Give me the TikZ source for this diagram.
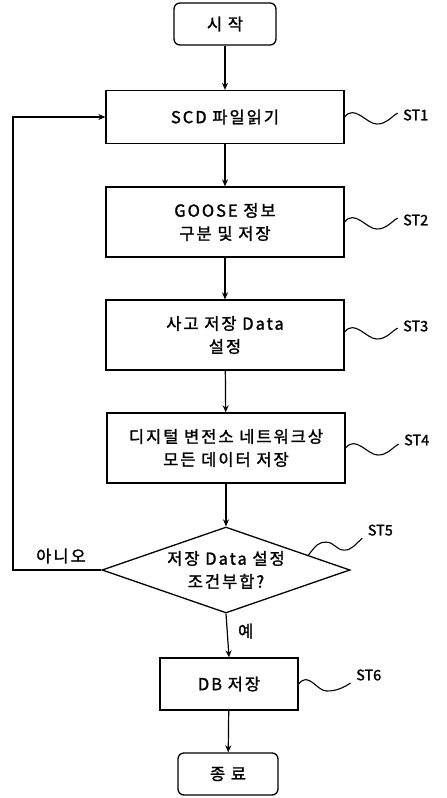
\documentclass[tikz,border=0pt]{standalone}
\usepackage{fontspec}
\setmainfont{Noto Sans CJK KR}[FakeBold=1.5]
\newfontfamily\widefont{Noto Sans CJK KR}[FakeBold=1.5,LetterSpace=12]
\usetikzlibrary{shapes.geometric,arrows.meta,calc}
\begin{document}
\begin{tikzpicture}[x=1pt,y=-1pt,
  every node/.style={font=\widefont\fontsize{16.5}{23}\selectfont},
  term/.style={draw,line width=1.3pt,rounded corners=6pt,minimum width=102pt,minimum height=42pt,inner sep=0pt},
  stepbox/.style={draw,line width=1.3pt,minimum width=238pt,minimum height=70pt,inner sep=0pt,align=center},
  decide/.style={draw,line width=1.3pt,diamond,minimum width=248pt,minimum height=86pt,inner sep=0pt},
  flow/.style={line width=1.2pt,-{Stealth[length=7pt,width=6pt]}},
  lead/.style={line width=1.1pt},
  lbl/.style={font=\rmfamily\fontsize{14.5}{16}\selectfont,anchor=west}]
\useasboundingbox (0,0) rectangle (447,798);
\node[term] (start) at (225,24) {시 작};
\node[stepbox,minimum height=53pt] (st1) at (225,117) {SCD 파일읽기};
\node[stepbox] (st2) at (225,222) {GOOSE 정보\\구분 및 저장};
\node[stepbox] (st3) at (225,335) {사고 저장 Data\\설정};
\node[stepbox] (st4) at (226,448) {디지털 변전소 네트워크상\\모든 데이터 저장};
\node[decide] (dia) at (226,570) {};
\node[align=center] (diatext) at (dia.center) {저장 Data 설정\\조건부합?};
\node[stepbox,minimum width=138pt,minimum height=52pt] (st6) at (229,684) {DB 저장};
\node[term,minimum width=100pt] (end) at (228,774) {종 료};

\draw[flow] (start) -- (st1);
\draw[flow] (st1) -- (st2);
\draw[flow] (st2) -- (st3);
\draw[flow] (st3) -- (st4);
\draw[flow] (st4.south) -- (dia.north);
\draw[flow] (dia.south) -- node[right=7pt,pos=0.4] (yes) {예} (st6.north);
\draw[flow] (st6) -- (end);
\coordinate (loopx) at (13,0);
\draw[flow] (dia.west) -- (loopx |- dia.west) -- (loopx |- st1.west) -- (st1.west);
\node (no) at (61,556) {아니오};

% leaders
\draw[lead] (st1.east) .. controls +(10,-13) and +(-10,0) .. ++(32,7) .. controls +(10,0) and +(-8,5) .. ++(21,-11) coordinate (e1);
\node[lbl] (l1) at ($(e1)+(2,2)$) {ST1};
\draw[lead] (st2.east) .. controls +(10,-13) and +(-10,0) .. ++(32,7) .. controls +(10,0) and +(-8,5) .. ++(21,-11) coordinate (e2);
\node[lbl] (l2) at ($(e2)+(2,2)$) {ST2};
\draw[lead] ($(st3.east)+(0,-3)$) .. controls +(10,-13) and +(-10,0) .. ++(32,7) .. controls +(10,0) and +(-8,5) .. ++(21,-11) coordinate (e3);
\node[lbl] (l3) at ($(e3)+(2,-2)$) {ST3};
\draw[lead] (st4.east) .. controls +(10,-13) and +(-10,0) .. ++(32,7) .. controls +(10,0) and +(-8,5) .. ++(21,-11) coordinate (e4);
\node[lbl] (l4) at ($(e4)+(2,-4)$) {ST4};
\coordinate (a5) at ($(dia.north)!0.66!(dia.east)$);
\draw[lead] (a5) .. controls +(8,-10) and +(-8,0) .. ++(18,-13) .. controls +(8,0) and +(-8,0) .. ++(18,8) .. controls +(8,0) and +(-6,5) .. ++(18,-12) coordinate (e5);
\node[lbl] (l5) at ($(e5)+(2,-8)$) {ST5};
\draw[lead] (st6.east) .. controls +(10,-13) and +(-10,0) .. ++(28,7) .. controls +(10,0) and +(-8,5) .. ++(24,-8) coordinate (e6);
\node[lbl] (l6) at ($(e6)+(2,-8)$) {ST6};
\end{tikzpicture}
\end{document}
